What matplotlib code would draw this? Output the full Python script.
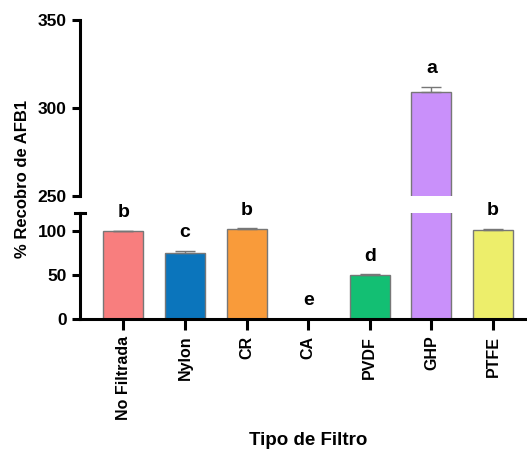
import numpy as np
import matplotlib.pyplot as plt

plt.rcParams['font.family'] = ['Liberation Sans', 'DejaVu Sans']
plt.rcParams['font.weight'] = 'bold'

filtros = ['No Filtrada', 'Nylon', 'CR', 'CA', 'PVDF', 'GHP', 'PTFE']
recobro = [100, 75, 101.5, 0, 50, 309, 101]
error = [0, 2, 1, 0, 0.5, 3, 1]
letras = ['b', 'c', 'b', 'e', 'd', 'a', 'b']
colores = ['#F87E7E', '#0B75BC', '#F99B3A', '#FFFFFF', '#13BF73', '#C990FA', '#EDEE6B']

fig = plt.figure(figsize=(5.27, 4.5), dpi=100)
ax_top = fig.add_axes([0.152, 0.5644, 0.848, 0.391])
ax_bot = fig.add_axes([0.152, 0.291, 0.848, 0.2356])

x = np.arange(len(filtros))
yerr = [np.zeros(len(error)), error]  # only upward, like Prism
for ax in (ax_top, ax_bot):
    ax.bar(x, recobro, width=0.65, color=colores, edgecolor='#777777', linewidth=1,
           yerr=yerr, error_kw=dict(ecolor='#777777', elinewidth=1, capsize=7, capthick=1))
    ax.set_xlim(-0.7, 6.55)
    for s in ['top', 'right']:
        ax.spines[s].set_visible(False)
    ax.spines['left'].set_linewidth(2.2)
    ax.tick_params(axis='y', width=2.2, length=6, labelsize=12.5)

ax_top.set_ylim(250, 350)
ax_top.set_yticks([250, 300, 350])
ax_top.spines['bottom'].set_visible(False)
ax_top.set_xticks([])

ax_bot.set_ylim(0, 120)
ax_bot.set_yticks([0, 50, 100])
ax_bot.spines['bottom'].set_linewidth(2.2)
ax_bot.set_xticks(x)
ax_bot.set_xticklabels(filtros, rotation=90, fontsize=11.5, fontweight='bold')
ax_bot.tick_params(axis='x', width=2.2, length=8, pad=4)
# small break stub on top of the lower spine
ax_bot.plot([-0.012, 0.012], [1, 1], transform=ax_bot.transAxes, color='black',
            linewidth=2.2, clip_on=False)

for i, (v, e, l) in enumerate(zip(recobro, error, letras)):
    ax = ax_top if v > 120 else ax_bot
    ax.annotate(l, (i, v + e), xytext=(0, 13), textcoords='offset points',
                ha='center', va='center', fontsize=14, fontweight='bold')

fig.text(0.042, 0.602, '% Recobro de AFB1', rotation=90, ha='center', va='center',
         fontsize=12, fontweight='bold')
fig.text(0.585, 0.022, 'Tipo de Filtro', ha='center', va='center',
         fontsize=13.5, fontweight='bold')

fig.savefig('out.png', dpi=100)
